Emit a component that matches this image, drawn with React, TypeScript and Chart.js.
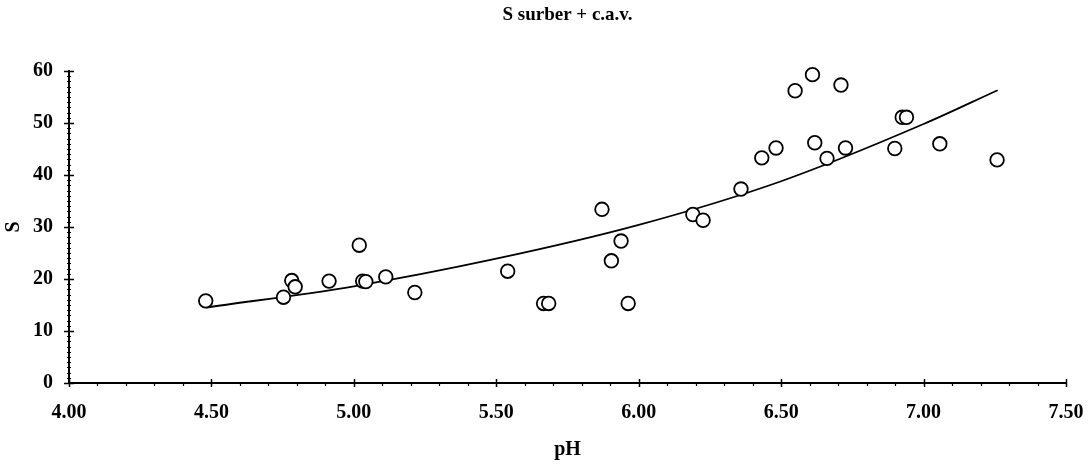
import React, { useEffect, useRef } from "react";
import { Chart, registerables } from "chart.js";

Chart.register(...registerables);

// Observed samples
const phValues = [4.48, 4.753, 4.782, 4.794, 4.913, 5.019, 5.031, 5.042, 5.112, 5.214, 5.54, 5.666, 5.684, 5.871, 5.904, 5.938, 5.963, 6.19, 6.226, 6.359, 6.432, 6.482, 6.549, 6.61, 6.618, 6.661, 6.71, 6.726, 6.899, 6.925, 6.94, 7.057, 7.258];
const sValues = [15.8, 16.5, 19.7, 18.5, 19.6, 26.5, 19.6, 19.5, 20.4, 17.4, 21.5, 15.3, 15.3, 33.4, 23.5, 27.3, 15.3, 32.4, 31.3, 37.3, 43.3, 45.2, 56.2, 59.3, 46.2, 43.2, 57.3, 45.2, 45.1, 51.1, 51.1, 46.0, 42.9];

// Trend curve
const trendX = [4.48, 5.0, 5.5, 6.0, 6.5, 7.0, 7.26];
const trendY = [14.5, 18.6, 23.9, 30.4, 38.8, 49.8, 56.3];

const xTicks = [4.0, 4.5, 5.0, 5.5, 6.0, 6.5, 7.0, 7.5];
const yTicks = [0, 10, 20, 30, 40, 50, 60];

const titleText = "S surber + c.a.v.";
const xTitle = "pH";
const yTitle = "S";

const FONT = "'Liberation Serif', 'Times New Roman', serif";

const minorTicks = {
  id: "minorTicks",
  afterDraw(chart: any) {
    const { ctx, scales } = chart;
    const x = scales.x;
    const y = scales.y;
    const axisY = y.getPixelForValue(0);
    const axisX = x.getPixelForValue(4);
    ctx.save();
    ctx.strokeStyle = "#000";
    // x minor ticks every 0.1
    for (let i = 0; i <= 35; i++) {
      const v = 4 + i * 0.1;
      const px = Math.round(x.getPixelForValue(v)) + 0.5;
      const major = i % 5 === 0;
      ctx.lineWidth = major ? 1.5 : 1.2;
      ctx.beginPath();
      ctx.moveTo(px, axisY - (major ? 4 : 1));
      ctx.lineTo(px, axisY + (major ? 4 : 3));
      ctx.stroke();
    }
    // y minor ticks every 1
    for (let i = 0; i <= 60; i++) {
      const py = Math.round(y.getPixelForValue(i)) + 0.5;
      const major = i % 10 === 0;
      ctx.lineWidth = major ? 1.5 : 1;
      ctx.beginPath();
      ctx.moveTo(axisX - (major ? 5 : 2), py);
      ctx.lineTo(axisX + (major ? 5 : 2), py);
      ctx.stroke();
    }
    ctx.restore();
  },
};

export default function App() {
  const ref = useRef<HTMLCanvasElement | null>(null);

  useEffect(() => {
    if (!ref.current) return;
    const points = phValues.map((v, i) => ({ x: v, y: sValues[i] }));
    const trend = trendX.map((v, i) => ({ x: v, y: trendY[i] }));
    const chart = new Chart(ref.current, {
      type: "scatter",
      data: {
        datasets: [
          {
            type: "scatter",
            data: points,
            clip: false,
            pointRadius: 6.8,
            pointHoverRadius: 6.8,
            pointBorderWidth: 1.8,
            pointBackgroundColor: "#fff",
            pointBorderColor: "#000",
          } as any,
          {
            type: "line",
            data: trend,
            clip: false,
            borderColor: "#000",
            borderWidth: 1.8,
            pointRadius: 0,
            fill: false,
            cubicInterpolationMode: "monotone",
          } as any,
        ],
      },
      plugins: [minorTicks],
      options: {
        animation: false,
        responsive: false,
        events: [],
        layout: { padding: { left: 0, right: 26, top: 0, bottom: 0 } },
        plugins: {
          legend: { display: false },
          tooltip: { enabled: false },
          title: {
            display: true,
            text: titleText,
            fullSize: false,
            color: "#000",
            font: { family: FONT, size: 19, weight: "bold" },
            padding: { top: 3.6, bottom: 44.6 },
          },
        },
        scales: {
          x: {
            type: "linear",
            min: 4,
            max: 7.5,
            afterBuildTicks: (scale: any) => {
              scale.ticks = xTicks.map((v) => ({ value: v }));
            },
            afterFit: (scale: any) => {
              scale.height = 82;
              scale.paddingLeft = 0;
              scale.paddingRight = 0;
            },
            grid: { display: false, drawTicks: false },
            border: { display: true, color: "#000", width: 2 },
            ticks: {
              color: "#000",
              padding: 18,
              maxRotation: 0,
              font: { family: FONT, size: 20, weight: "bold" },
              callback: (v: any) => Number(v).toFixed(2),
            },
            title: {
              display: true,
              text: xTitle,
              color: "#000",
              font: { family: FONT, size: 20, weight: "bold" },
              padding: { top: 0, bottom: 3 },
            },
          },
          y: {
            type: "linear",
            min: 0,
            max: 60,
            afterBuildTicks: (scale: any) => {
              scale.ticks = yTicks.map((v) => ({ value: v }));
            },
            afterFit: (scale: any) => {
              scale.width = 69;
              scale.paddingTop = 0;
              scale.paddingBottom = 0;
            },
            grid: { display: false, drawTicks: false },
            border: { display: true, color: "#000", width: 2 },
            ticks: {
              color: "#000",
              padding: 16,
              font: { family: FONT, size: 20, weight: "bold" },
            },
            title: {
              display: true,
              text: yTitle,
              color: "#000",
              font: { family: FONT, size: 20, weight: "bold" },
              padding: { top: 2, bottom: 0 },
            },
          },
        },
      },
    } as any);
    return () => chart.destroy();
  }, []);

  return (
    <div style={{ position: "absolute", left: 0, top: 0, width: 1092, height: 465, background: "#fff" }}>
      <canvas ref={ref} width={1092} height={465} style={{ width: 1092, height: 465 }} />
    </div>
  );
}
